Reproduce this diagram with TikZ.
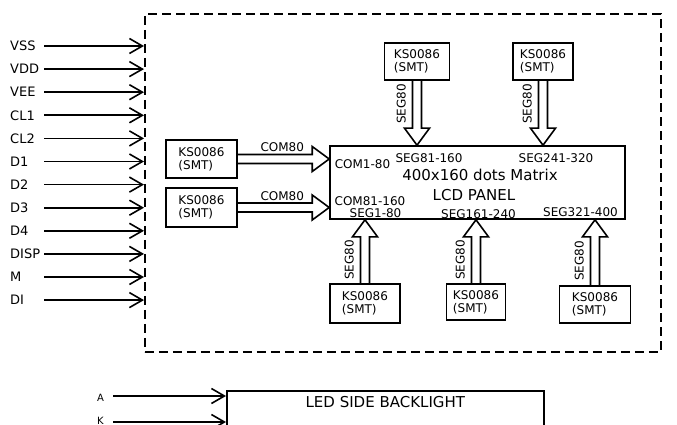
\documentclass[tikz,border=0pt]{standalone}
\usepackage{fontspec}
\setmainfont{DejaVu Sans}
\usepackage{tikz}
\usetikzlibrary{arrows.meta,calc}

\tikzset{
    box/.style={draw, line width=1.6pt, align=left, inner sep=0pt, font=\fontsize{12}{13}\selectfont},
    lbl/.style={font=\fontsize{12}{13}\selectfont, inner sep=1pt},
    big/.style={font=\fontsize{15}{17}\selectfont, inner sep=0pt},
    sig/.style={line width=1.6pt, -{Straight Barb[length=13pt,width=15pt]}},
    fat/.style={line width=1.6pt, to path={
        ($(\tikztostart)!4.5pt!90:(\tikztotarget)$)
        -- ($(\tikztotarget)!17pt!(\tikztostart)!4.5pt!90:(\tikztotarget)$)
        -- ($(\tikztotarget)!17pt!(\tikztostart)!12.5pt!90:(\tikztotarget)$)
        -- (\tikztotarget)
        -- ($(\tikztotarget)!17pt!(\tikztostart)!12.5pt!-90:(\tikztotarget)$)
        -- ($(\tikztotarget)!17pt!(\tikztostart)!4.5pt!-90:(\tikztotarget)$)
        -- ($(\tikztostart)!4.5pt!-90:(\tikztotarget)$)}}
}

\begin{document}
\begin{tikzpicture}[x=1pt, y=-1pt]
    \path[use as bounding box, clip] (0,0) rectangle (677,425);

    \node[draw, line width=1.6pt, dash pattern=on 9pt off 5pt, minimum width=516pt, minimum height=338pt, anchor=north west] (mod) at (144,13) {};

    \foreach \lab [count=\i from 0] in {VSS,VDD,VEE,CL1,CL2,D1,D2,D3,D4,DISP,M,DI} {
        \node[font=\fontsize{13}{14}\selectfont, anchor=west, inner sep=0pt] (sig\i) at (10,46+23.1*\i) {\lab};
        \coordinate (s\i) at (44,46+23.1*\i);
        \draw[sig] (s\i) -- (s\i -| mod.west);
    }

    \node[box, minimum width=295pt, minimum height=73pt] (lcd) at (477.5,182.5) {};
    \node[lbl, anchor=base] (com1) at (362.5,168) {COM1-80};
    \node[lbl, anchor=base] (com2) at (370,205) {COM81-160};
    \node[lbl, anchor=base] (seg2) at (429,162) {SEG81-160};
    \node[lbl, anchor=base] (seg4) at (556,162) {SEG241-320};
    \node[lbl, anchor=base] (seg1) at (375.5,217) {SEG1-80};
    \node[lbl, anchor=base] (seg3) at (478.5,218) {SEG161-240};
    \node[lbl, anchor=base] (seg5) at (580.5,216) {SEG321-400};
    \node[big, anchor=base] (dots) at (480,180) {400x160 dots Matrix};
    \node[big, anchor=base] (panel) at (474,200) {LCD PANEL};

    \node[box, minimum width=71pt, minimum height=38pt] (kl1) at (201.5,159) {KS0086\\(SMT)};
    \node[box, minimum width=71pt, minimum height=39pt] (kl2) at (201.5,207.5) {KS0086\\(SMT)};
    \node[box, minimum width=65pt, minimum height=37pt] (kt1) at (417,61.5) {KS0086\\(SMT)};
    \node[box, minimum width=60pt, minimum height=37pt] (kt2) at (543,61.5) {KS0086\\(SMT)};
    \node[box, minimum width=70pt, minimum height=39pt] (kb1) at (365,303.5) {KS0086\\(SMT)};
    \node[box, minimum width=59pt, minimum height=36pt] (kb2) at (476,302) {KS0086\\(SMT)};
    \node[box, minimum width=71pt, minimum height=37pt] (kb3) at (595,304.5) {KS0086\\(SMT)};

    \foreach \k in {kl1,kl2} {
        \draw[fat] (\k.east) to (\k.east -| lcd.west);
        \node[lbl, anchor=south east] at ($(\k.east -| lcd.west)+(-24,-6)$) {COM80};
    }
    \foreach \k in {kt1,kt2} {
        \draw[fat] (\k.south) to (\k.south |- lcd.north);
        \node[lbl, rotate=90, anchor=south] at ($(\k.south)!0.36!(\k.south |- lcd.north)+(-10,0)$) {SEG80};
    }
    \foreach \k in {kb1,kb2,kb3} {
        \draw[fat] (\k.north) to (\k.north |- lcd.south);
        \node[lbl, rotate=90, anchor=south] at ($(\k.north)!0.37!(\k.north |- lcd.south)+(-10,0)$) {SEG80};
    }

    \node[draw, line width=1.6pt, minimum width=317pt, minimum height=60pt, anchor=north west] (bl) at (226,390) {};
    \node[big] (bltext) at ([yshift=-12pt]bl.north) {LED SIDE BACKLIGHT};
    \node[font=\fontsize{10}{12}\selectfont, anchor=west, inner sep=0pt] (la) at (97,398) {A};
    \node[font=\fontsize{10}{12}\selectfont, anchor=west, inner sep=0pt] (lk) at (97,421) {K};
    \coordinate (sa) at (113,396);
    \coordinate (sk) at (113,422);
    \draw[sig] (sa) -- (sa -| bl.west);
    \draw[sig] (sk) -- (sk -| bl.west);
\end{tikzpicture}
\end{document}
